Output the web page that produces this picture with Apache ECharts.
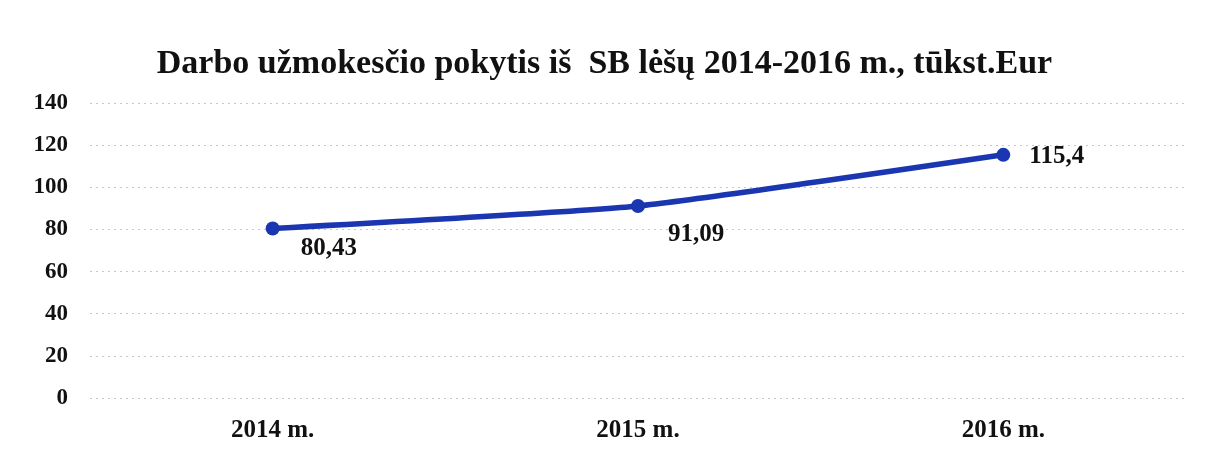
<!DOCTYPE html>
<html>
<head>
<meta charset="utf-8">
<script src="https://cdn.jsdelivr.net/npm/echarts@6/dist/echarts.min.js"></script>
<style>
  html, body { margin: 0; padding: 0; background: #fff; }
  #chart { width: 1209px; height: 449px; }
</style>
</head>
<body>
<div id="chart"></div>
<script>
const years = ['2014 m.', '2015 m.', '2016 m.'];
const salary = [80.43, 91.09, 115.4];
const labelPos = [[28, 20], [30, 28], [26, 2]];

const serif = '"Liberation Serif", "Times New Roman", serif';
const chart = echarts.init(document.getElementById('chart'));

chart.setOption({
  backgroundColor: '#fff',
  title: {
    text: 'Darbo užmokesčio pokytis iš  SB lėšų 2014-2016 m., tūkst.Eur',
    left: 'center',
    top: 42,
    textStyle: { fontFamily: serif, fontSize: 34, fontWeight: 'bold', color: '#111' }
  },
  grid: { left: 90, right: 23, top: 103, bottom: 51, containLabel: false },
  xAxis: {
    type: 'category',
    data: years,
    boundaryGap: true,
    axisLine: { show: false },
    axisTick: { show: false },
    axisLabel: {
      margin: 20,
      fontFamily: serif, fontSize: 25, fontWeight: 'bold', color: '#111'
    }
  },
  yAxis: {
    type: 'value',
    min: 0, max: 140, interval: 20,
    axisLine: { show: false },
    axisTick: { show: false },
    axisLabel: {
      margin: 22,
      fontFamily: serif, fontSize: 23, fontWeight: 'bold', color: '#111'
    },
    splitLine: { lineStyle: { color: '#c8c8c8', type: [2, 4], width: 1 } }
  },
  series: [{
    type: 'line',
    data: salary.map((v, i) => ({
      value: v,
      label: { offset: labelPos[i] }
    })),
    symbol: 'circle',
    symbolSize: 14,
    smooth: 0.15,
    lineStyle: { color: '#1a36b0', width: 5.5 },
    itemStyle: { color: '#1a36b0' },
    label: {
      show: true,
      position: 'inside',
      align: 'left',
      verticalAlign: 'middle',
      formatter: p => String(p.value).replace('.', ','),
      fontFamily: serif, fontSize: 25, fontWeight: 'bold', color: '#111'
    },
    animation: false
  }]
});
</script>
</body>
</html>
